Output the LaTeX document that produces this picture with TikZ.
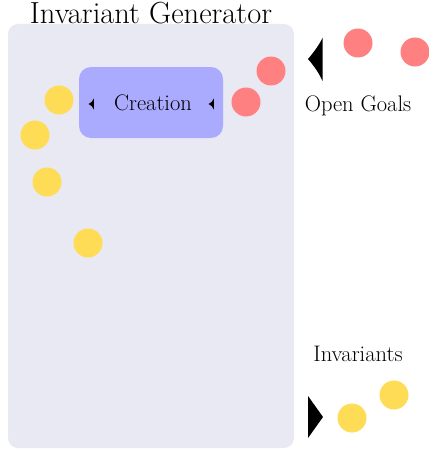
\documentclass[tikz,border=0pt]{standalone}
\usetikzlibrary{shapes.geometric}
\definecolor{panelgray}{RGB}{233,233,243}
\definecolor{boxblue}{RGB}{170,170,255}
\definecolor{goalred}{RGB}{255,128,128}
\definecolor{invyellow}{RGB}{255,220,85}
\tikzset{
  goal/.style={circle,fill=goalred,minimum size=29pt,inner sep=0pt},
  inv/.style={circle,fill=invyellow,minimum size=29pt,inner sep=0pt},
  lbl/.style={font=\fontsize{22.5}{25}\selectfont,inner sep=0pt},
  tip/.style={fill=black},
}
\begin{document}
\begin{tikzpicture}[x=1pt,y=-1pt]
  \useasboundingbox (0,0) rectangle (428,452);
  % generator panel and title
  \fill[panelgray,rounded corners=10pt] (8,24) rectangle (294,448);
  \node[font=\fontsize{30.5}{33}\selectfont,inner sep=0pt,anchor=base] (title) at (151,24) {Invariant Generator};
  % creation stage
  \node[fill=boxblue,rounded corners=12pt,minimum width=144pt,minimum height=71pt,inner sep=0pt] (creation) at (151,102.5) {};
  \node[lbl,anchor=base] (creationtext) at (153,110) {Creation};
  \fill[tip] (88.5,104) .. controls (91,103) and (93,101) .. (93.8,98.5) -- (93.8,109.5) .. controls (93,107) and (91,105) .. cycle;
  \fill[tip] (208.5,104) .. controls (211,103) and (213,101) .. (213.8,98.5) -- (213.8,109.5) .. controls (213,107) and (211,105) .. cycle;
  % goals being consumed
  \node[goal] (g1) at (271,71) {};
  \node[goal] (g2) at (246,102) {};
  % invariants produced
  \node[inv] (i1) at (59,100) {};
  \node[inv] (i2) at (35,135) {};
  \node[inv] (i3) at (47,182) {};
  \node[inv] (i4) at (88,243) {};
  % open goals queue
  \fill[tip] (308,59) .. controls (314,52) and (319,45) .. (322.5,38) -- (322.5,81) .. controls (319,73) and (314,66) .. cycle;
  \node[goal] (g3) at (358,43) {};
  \node[goal] (g4) at (415,52) {};
  \node[lbl,anchor=base] (goalstext) at (358,111) {Open Goals};
  % invariants output
  \node[lbl,anchor=base] (invtext) at (358,361) {Invariants};
  \fill[tip] (308,396) -- (323,417) -- (308,438) -- cycle;
  \node[inv] (i5) at (352,418) {};
  \node[inv] (i6) at (394,395) {};
\end{tikzpicture}
\end{document}
